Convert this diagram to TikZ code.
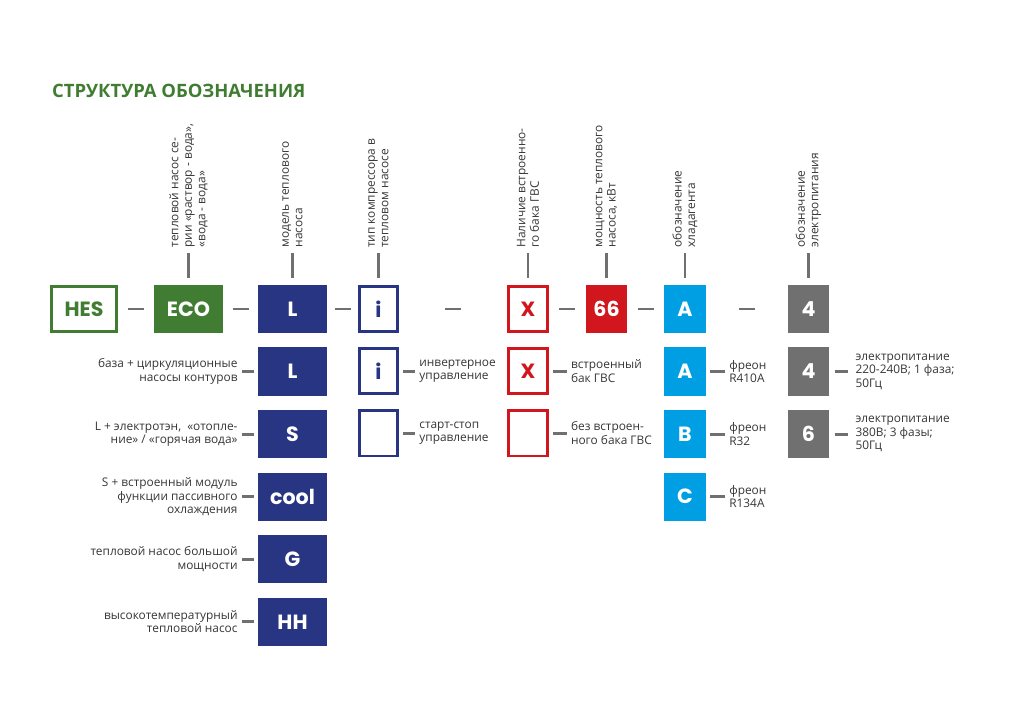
\documentclass[tikz,border=0pt]{standalone}
\usepackage{fontspec}
\setmainfont{Open Sans}
\newfontfamily\boxfont{Poppins}
\usepackage{tikz}
\usetikzlibrary{positioning, calc}

\definecolor{hgreen}{RGB}{64,125,50}
\definecolor{hnavy}{RGB}{40,53,131}
\definecolor{hred}{RGB}{210,22,30}
\definecolor{hblue}{RGB}{0,159,227}
\definecolor{hgray}{RGB}{112,112,112}
\definecolor{htext}{RGB}{55,55,55}

\tikzstyle{code} = [rectangle, inner sep=0, text centered, font=\boxfont\bfseries\fontsize{17}{17}\selectfont]
\tikzstyle{bar} = [draw=hgray, line width=0.85mm]
\tikzstyle{lbl} = [inner sep=0, text=htext, font=\fontsize{9.8}{11.1}\selectfont]
\tikzstyle{toplbl} = [lbl, rotate=90, anchor=west, align=left]
\tikzstyle{leftlbl} = [lbl, align=right]
\tikzstyle{rightlbl} = [lbl, align=left]
\tikzset{
  wfull/.style={code, fill=#1, text=white, minimum width=20mm, minimum height=14mm},
  nfull/.style={code, fill=#1, text=white, minimum width=12mm, minimum height=14mm},
  wframe/.style={code, draw=#1, text=#1, line width=0.8mm, minimum width=18.9mm, minimum height=13.2mm},
  nframe/.style={code, draw=#1, text=#1, line width=0.8mm, minimum width=11.2mm, minimum height=13.2mm}
}

\begin{document}
\begin{tikzpicture}[x=0.29mm, y=-0.29mm, node distance=4mm]

    \fill[white] (0,0) rectangle (1024,724);
    \useasboundingbox (0,0) rectangle (1024,724);

    \node (title) [anchor=west, inner sep=0, text=hgreen, font=\bfseries\fontsize{15.2}{15.2}\selectfont] at (52,91) {СТРУКТУРА ОБОЗНАЧЕНИЯ};

    % main row
    \node (HES) [wframe=hgreen] at (84,309) {HES};
    \node (ECO) [wfull=hgreen] at (188.5,309) {ECO};
    \node (L) [wfull=hnavy] at (292.5,309) {L};
    \node (I) [nframe=hnavy] at (378.5,309) {i};
    \node (X) [nframe=hred] at (528,309) {X};
    \node (P) [nfull=hred] at (606.5,309) {66};
    \node (R) [nfull=hblue] at (685,309) {A};
    \node (U) [nfull=hgray] at (808.5,309) {4};

    \foreach \a/\b in {HES/ECO, ECO/L, L/I, I/X, X/P, P/R, R/U}
        \draw [bar] ($(\a.east)!.5!(\b.west)+(-8,0)$) -- +(16,0);

    % captions above
    \node (ECOtxt) [toplbl] at ($(ECO.north)+(0,-37)$) {тепловой насос се-\\рии «раствор - вода»,\\«вода - вода»};
    \node (Ltxt) [toplbl] at ($(L.north)+(0,-37)$) {модель теплового\\насоса};
    \node (Itxt) [toplbl] at ($(I.north)+(0,-37)$) {тип компрессора в\\тепловом насосе};
    \node (Xtxt) [toplbl] at ($(X.north)+(0,-37)$) {Наличие встроенно-\\го бака ГВС};
    \node (Ptxt) [toplbl] at ($(P.north)+(0,-37)$) {мощность теплового\\насоса, кВт};
    \node (Rtxt) [toplbl] at ($(R.north)+(0,-37)$) {обозначение\\хладагента};
    \node (Utxt) [toplbl] at ($(U.north)+(0,-37)$) {обозначение\\электропитания};

    \foreach \n in {ECO, L, I, X, P, R, U}
        \draw [bar, shorten <=2mm, shorten >=1.5mm] (\n.north) -- (\n txt.west);

    % model column
    \node (L1) [wfull=hnavy, below=of L] {L};
    \node (L2) [wfull=hnavy, below=of L1] {S};
    \node (L3) [wfull=hnavy, below=of L2] {cool};
    \node (L4) [wfull=hnavy, below=of L3] {G};
    \node (L5) [wfull=hnavy, below=of L4] {HH};
    \node (L1txt) [leftlbl, left=5.8mm of L1] {база + циркуляционные\\насосы контуров};
    \node (L2txt) [leftlbl, left=5.8mm of L2] {L + электротэн,~~«отопле-\\ние» / «горячая вода»};
    \node (L3txt) [leftlbl, left=5.8mm of L3] {S + встроенный модуль\\функции пассивного\\охлаждения};
    \node (L4txt) [leftlbl, left=5.8mm of L4] {тепловой насос большой\\мощности};
    \node (L5txt) [leftlbl, left=5.8mm of L5] {высокотемпературный\\тепловой насос};

    % compressor column
    \node (I1) [nframe=hnavy, below=of I] {i};
    \node (I2) [nframe=hnavy, below=of I1] {};
    \node (I1txt) [rightlbl, right=5.8mm of I1] {инвертерное\\управление};
    \node (I2txt) [rightlbl, right=5.8mm of I2] {старт-стоп\\управление};

    % tank column
    \node (X1) [nframe=hred, below=of X] {X};
    \node (X2) [nframe=hred, below=of X1] {};
    \node (X1txt) [rightlbl, right=6.4mm of X1] {встроенный\\бак ГВС};
    \node (X2txt) [rightlbl, right=6.4mm of X2] {без встроен-\\ного бака ГВС};

    % refrigerant column
    \node (R1) [nfull=hblue, below=of R] {A};
    \node (R2) [nfull=hblue, below=of R1] {B};
    \node (R3) [nfull=hblue, below=of R2] {C};
    \node (R1txt) [rightlbl, right=6.7mm of R1] {фреон\\R410A};
    \node (R2txt) [rightlbl, right=6.7mm of R2] {фреон\\R32};
    \node (R3txt) [rightlbl, right=6.7mm of R3] {фреон\\R134A};

    % power column
    \node (U1) [nfull=hgray, below=of U] {4};
    \node (U2) [nfull=hgray, below=of U1] {6};
    \node (U1txt) [rightlbl, right=7.5mm of U1] {электропитание\\220-240В; 1 фаза;\\50Гц};
    \node (U2txt) [rightlbl, right=7.5mm of U2] {электропитание\\380В; 3 фазы;\\50Гц};

    \foreach \n in {L1, L2, L3, L4, L5, I1, I2, X1, X2, R1, R2, R3}
        \draw [bar, shorten <=1.2mm, shorten >=1.2mm] (\n) -- (\n txt);
    \foreach \n in {U1, U2}
        \draw [bar, shorten <=1.5mm, shorten >=2.2mm] (\n) -- (\n txt);

\end{tikzpicture}
\end{document}
